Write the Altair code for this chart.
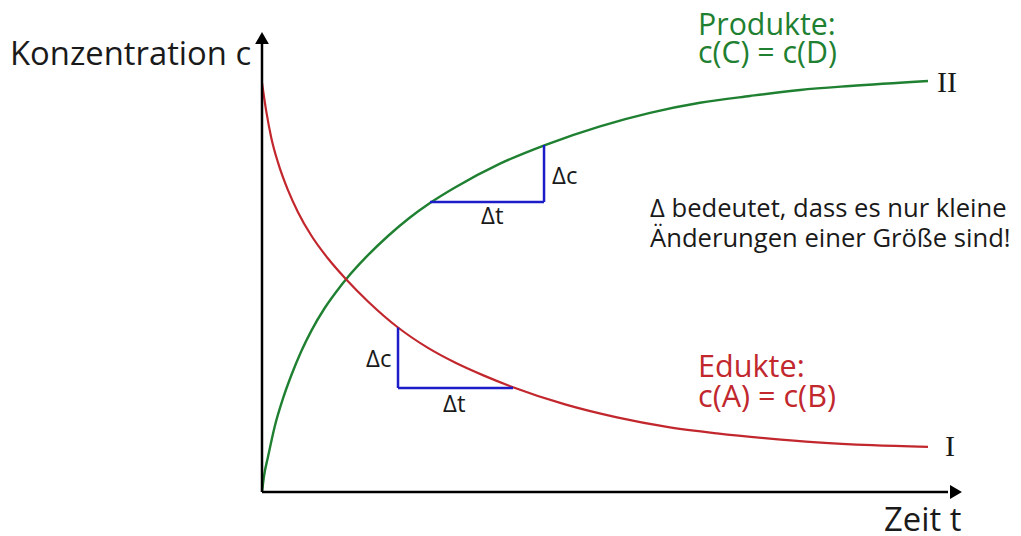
import altair as alt
import pandas as pd

# ---- data (time t, concentration c) ----
edukt_t = [0, 0.061, 0.133, 0.229, 0.371, 0.514, 0.704, 0.943, 1.204, 1.514,
           1.943, 2.371, 2.757, 3.171, 3.586, 4.329, 5.071, 5.786, 6.5, 7.214,
           7.929, 8.714, 9.514]
edukt_c = [8.891, 8.274, 7.698, 7.159, 6.561, 6.083, 5.576, 5.076, 4.620, 4.143,
           3.576, 3.133, 2.815, 2.530, 2.278, 1.904, 1.622, 1.415, 1.274, 1.165,
           1.078, 1.017, 0.980]

produkt_t = [0, 0.029, 0.086, 0.181, 0.3, 0.419, 0.561, 0.704, 0.896, 1.086, 1.204,
             1.5, 1.8, 2.1, 2.4, 2.757, 3.4, 4.043, 4.829, 5.543, 6.257, 6.971,
             7.686, 8.4, 9.514]
produkt_c = [0, 0.348, 0.767, 1.420, 2.033, 2.537, 3.059, 3.504, 4.0, 4.404, 4.630,
             5.126, 5.565, 5.952, 6.283, 6.620, 7.139, 7.543, 7.950, 8.243, 8.461, 8.609,
             8.739, 8.826, 8.935]

# slope triangles (t1, c1) -> (t2, c2)
tri_x = [1.943, 1.943, 2.4, 4.029]
tri_y = [3.576, 2.261, 6.304, 6.304]
tri_x2 = [1.943, 3.586, 4.029, 4.029]
tri_y2 = [2.261, 2.261, 6.304, 7.543]

# annotation texts
sans_text = ["Konzentration c", "Zeit t", "Produkte:", "c(C) = c(D)", "Edukte:", "c(A) = c(B)",
             "\u0394 bedeutet, dass es nur kleine", "\u00c4nderungen einer Gr\u00f6\u00dfe sind!",
             "\u0394c", "\u0394t", "\u0394c", "\u0394t"]
sans_t = [-3.6, 8.886, 6.229, 6.229, 6.229, 6.229, 5.543, 5.543, 1.486, 2.586, 4.143, 3.129]
sans_c = [9.283, -0.848, 9.935, 9.326, 2.5, 1.848, 5.978, 5.326, 2.717, 1.739, 6.696, 5.826]
sans_size = [32.8, 32.8, 30.3, 30.3, 30.6, 30.6, 25.6, 25.6, 24, 24, 24, 24]
sans_color = ["#1a1a1a", "#1a1a1a", "#1e8030", "#1e8030", "#c1272d", "#c1272d",
              "#1a1a1a", "#1a1a1a", "#1a1a1a", "#1a1a1a", "#1a1a1a", "#1a1a1a"]

serif_text = ["II", "I"]
serif_t = [9.643, 9.757]
serif_c = [8.696, 0.783]

RED = "#c1272d"
GREEN = "#1e8030"
BLUE = "#1c1cc8"

xs = alt.Scale(domain=[-3.6286, 10.7286], nice=False, zero=False)
ys = alt.Scale(domain=[-0.9565, 10.5217], nice=False, zero=False)

edukt = pd.DataFrame({"t": edukt_t, "c": edukt_c})
produkt = pd.DataFrame({"t": produkt_t, "c": produkt_c})
tri = pd.DataFrame({"x": tri_x, "y": tri_y, "x2": tri_x2, "y2": tri_y2})
axes = pd.DataFrame({"x": [0, 0], "y": [0, 0], "x2": [0, 9.8], "y2": [9.8, 0]})
arrow_up = pd.DataFrame({"x": [0], "y": [10]})
arrow_right = pd.DataFrame({"x": [10], "y": [0]})
sans = pd.DataFrame({"text": sans_text, "t": sans_t, "c": sans_c,
                     "size": sans_size, "color": sans_color})
serif = pd.DataFrame({"text": serif_text, "t": serif_t, "c": serif_c})

axis_lines = alt.Chart(axes).mark_rule(color="#000000", strokeWidth=2.5).encode(
    x=alt.X("x:Q", scale=xs, axis=None), y=alt.Y("y:Q", scale=ys, axis=None),
    x2="x2:Q", y2="y2:Q")

up = alt.Chart(arrow_up).mark_point(shape="triangle-up", filled=True, size=190,
                                    color="#000000", opacity=1, yOffset=6).encode(
    x=alt.X("x:Q", scale=xs, axis=None), y=alt.Y("y:Q", scale=ys, axis=None))
right = alt.Chart(arrow_right).mark_point(shape="triangle-right", filled=True, size=190,
                                          color="#000000", opacity=1, xOffset=-6).encode(
    x=alt.X("x:Q", scale=xs, axis=None), y=alt.Y("y:Q", scale=ys, axis=None))

red_line = alt.Chart(edukt).mark_line(color=RED, strokeWidth=2.2, interpolate="monotone").encode(
    x=alt.X("t:Q", scale=xs, axis=None), y=alt.Y("c:Q", scale=ys, axis=None))
green_line = alt.Chart(produkt).mark_line(color=GREEN, strokeWidth=2.4, interpolate="monotone").encode(
    x=alt.X("t:Q", scale=xs, axis=None), y=alt.Y("c:Q", scale=ys, axis=None))

tri_lines = alt.Chart(tri).mark_rule(color=BLUE, strokeWidth=2.5).encode(
    x=alt.X("x:Q", scale=xs, axis=None), y=alt.Y("y:Q", scale=ys, axis=None),
    x2="x2:Q", y2="y2:Q")

sans_marks = alt.Chart(sans).mark_text(align="left", baseline="alphabetic", font="Open Sans").encode(
    x=alt.X("t:Q", scale=xs, axis=None), y=alt.Y("c:Q", scale=ys, axis=None),
    text="text:N", size=alt.Size("size:Q", scale=None, legend=None),
    color=alt.Color("color:N", scale=None, legend=None))

serif_marks = alt.Chart(serif).mark_text(align="left", baseline="alphabetic",
                                         font="Liberation Serif", fontSize=30,
                                         color="#1a1a1a").encode(
    x=alt.X("t:Q", scale=xs, axis=None), y=alt.Y("c:Q", scale=ys, axis=None),
    text="text:N")

chart = alt.layer(green_line, red_line, tri_lines, axis_lines, up, right,
                  sans_marks, serif_marks).properties(
    width=1005, height=528, padding=0, background="white",
    autosize=alt.AutoSizeParams(type="none")
).configure_view(stroke=None)

chart.save("out.html", embed_options={"renderer": "svg", "actions": False})
